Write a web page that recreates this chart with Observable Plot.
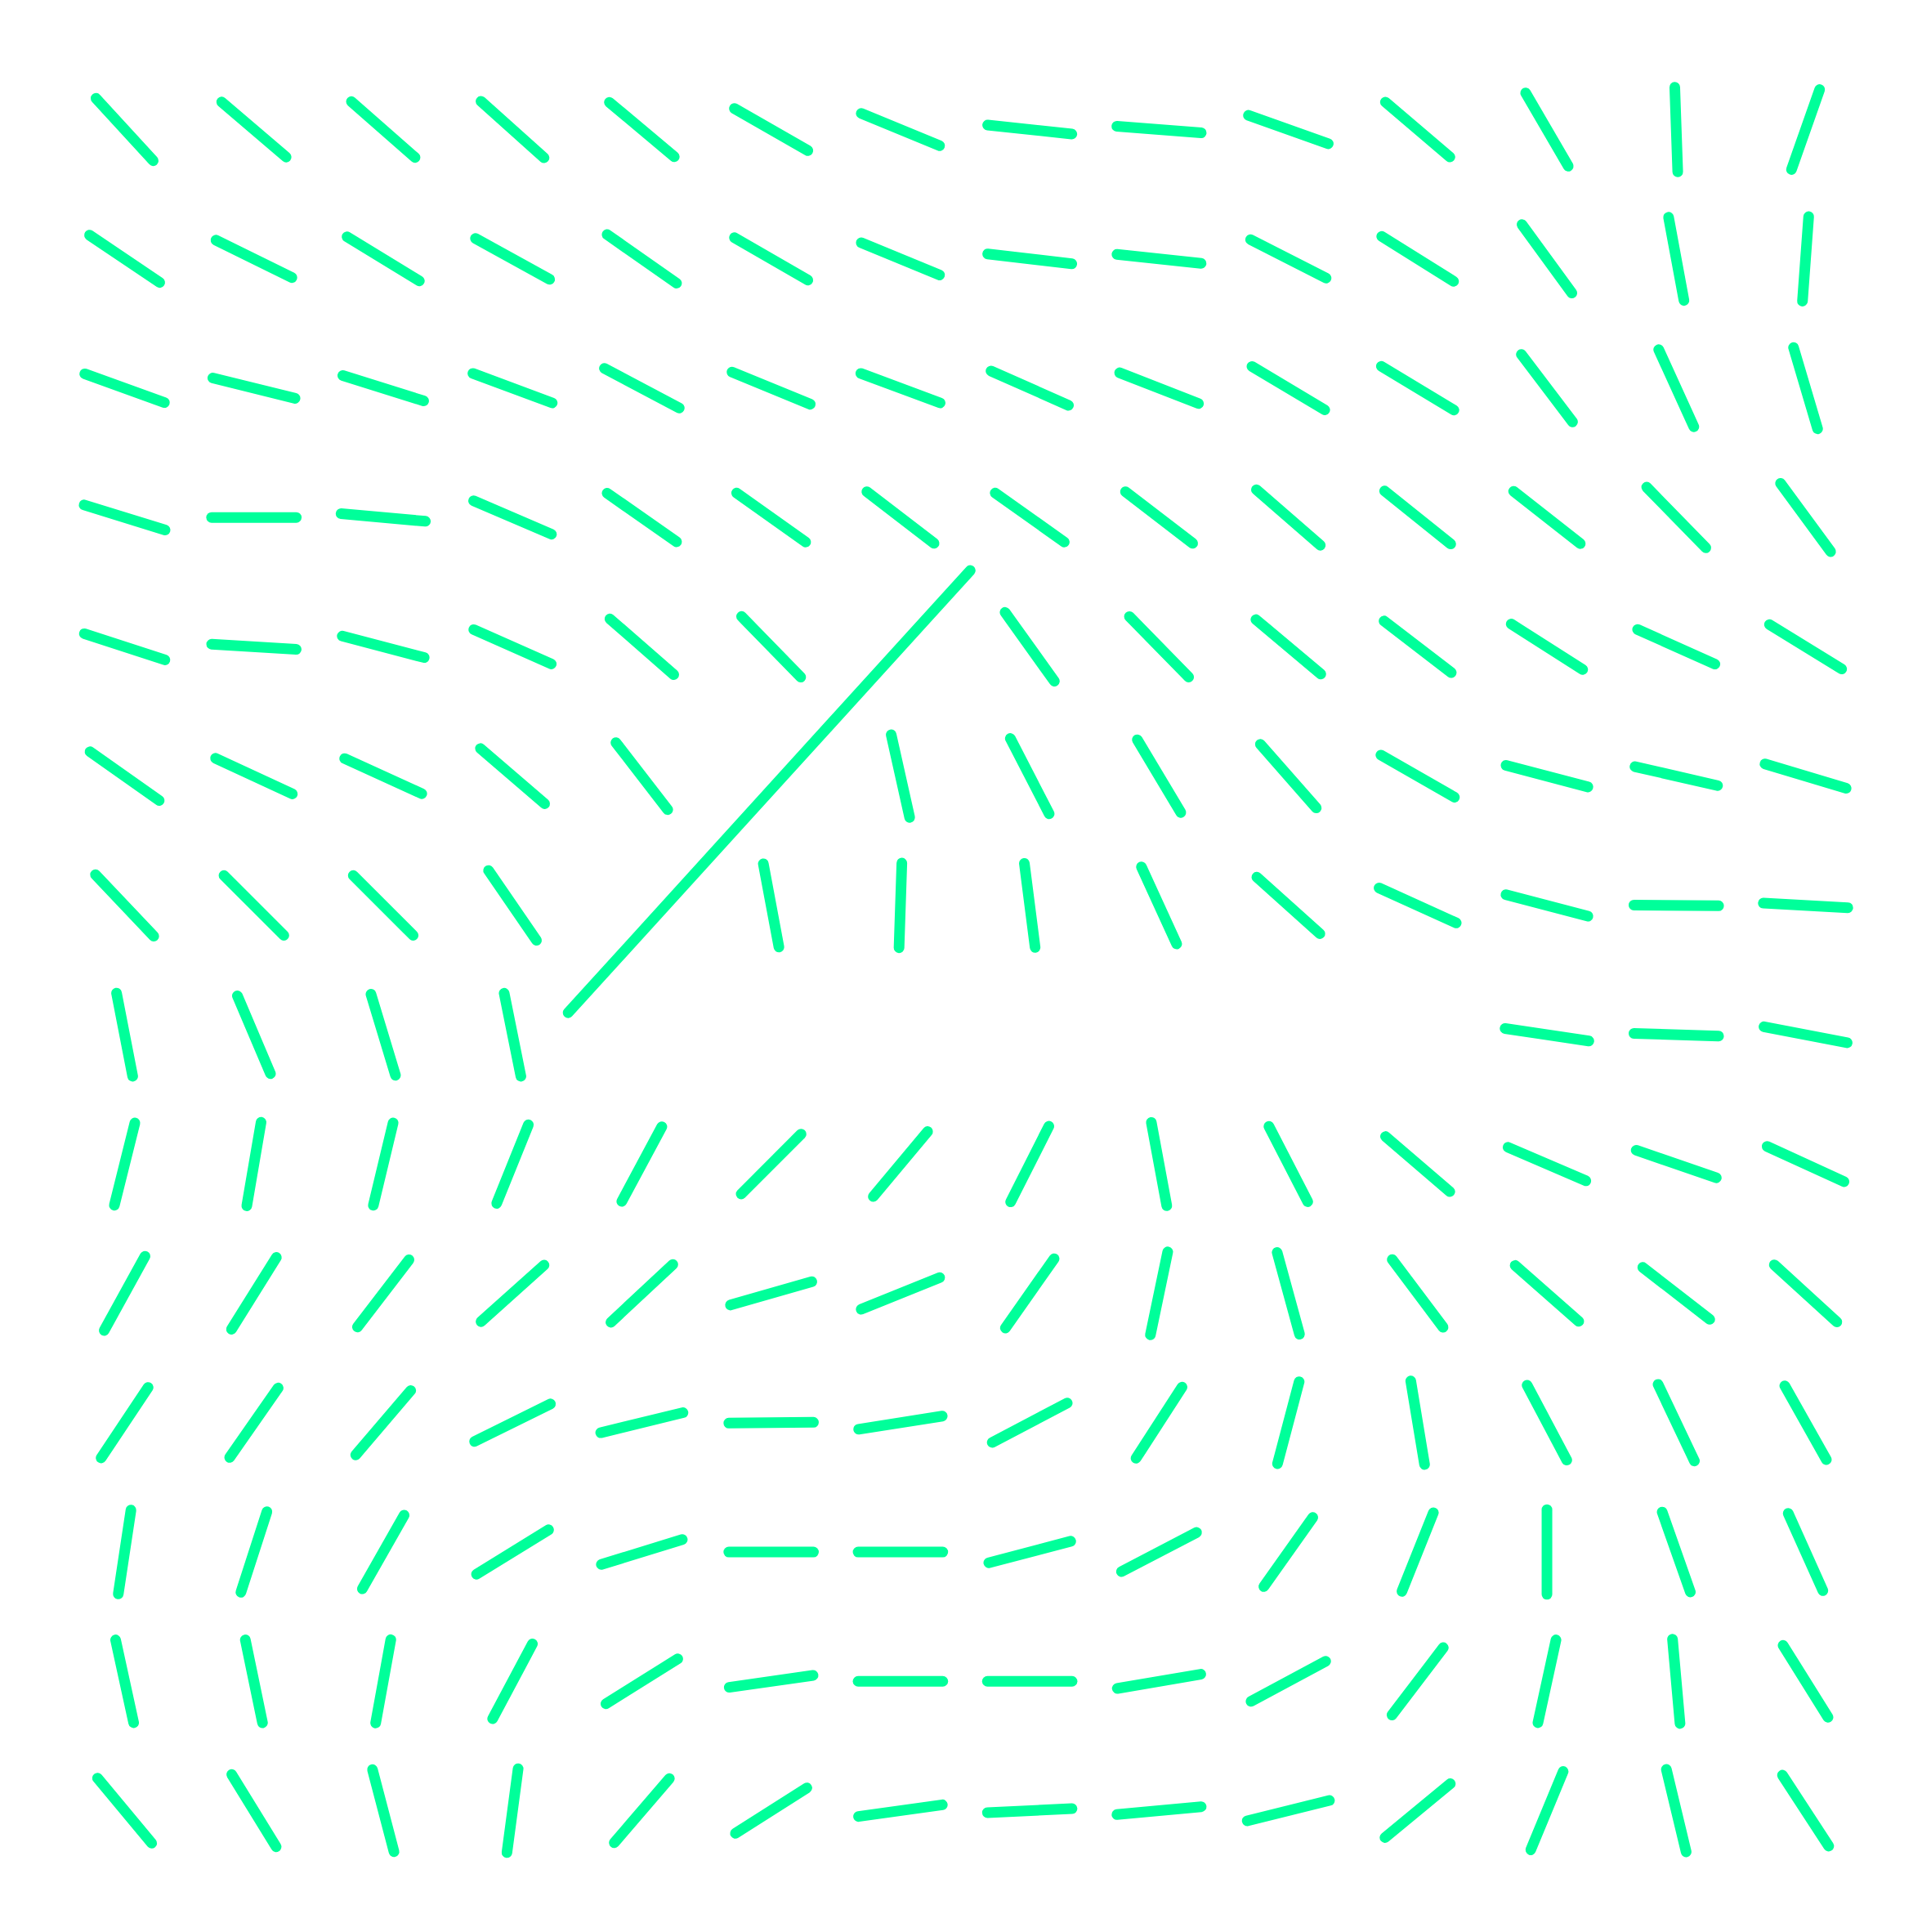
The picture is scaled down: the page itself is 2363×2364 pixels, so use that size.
<!DOCTYPE html>
<html>
<head>
<meta charset="utf-8">
<script src="https://cdn.jsdelivr.net/npm/d3@7"></script>
<script src="https://cdn.jsdelivr.net/npm/@observablehq/plot@0.6"></script>
<style>
  html, body { margin: 0; padding: 0; background: #ffffff; }
  #chart svg { display: block; }
</style>
</head>
<body>
<div id="chart"></div>
<script>
// Direction of each stroke (degrees, clockwise from east on screen); null = no stroke
const row0  = [47.5, 40.5, 41.3, 41.8, 40.0, 29.8, 22.3, 6.1, 4.5, 19.6, 40.4, 59.8, 88.0, 109.4];
const row1  = [34.0, 26.2, 31.4, 28.9, 35.0, 30.0, 22.3, 6.7, 6.1, 27.0, 32.0, 53.9, 79.5, 94.2];
const row2  = [19.8, 13.9, 17.4, 20.4, 27.9, 22.3, 20.4, 23.9, 21.3, 30.8, 31.1, 52.8, 65.5, 73.5];
const row3  = [17.2, 0.0, 5.1, 23.2, 35.0, 35.4, 37.5, 35.4, 37.5, 41.0, 38.7, 38.1, 45.7, 53.7];
const row4  = [18.0, 3.5, 14.7, 23.9, 41.1, 45.7, null, 54.4, 45.6, 40.0, 37.5, 32.5, 24.1, 31.6];
const row5  = [35.2, 24.9, 24.5, 40.7, 52.3, null, 77.4, 62.7, 59.1, 48.7, 29.8, 14.8, 12.9, 16.7];
const row6  = [46.5, 45.0, 45.0, 55.5, null, 79.4, 91.9, 82.7, 65.4, 41.9, 24.4, 14.7, 0.5, 3.1];
const row7  = [79.0, 67.0, 73.2, 78.6, null, null, null, null, null, null, null, 8.5, 1.8, 10.9];
const row8  = [104.0, 99.7, 103.5, 112.0, 118.2, 135.0, 129.9, 116.8, 79.5, 62.7, 40.6, 23.3, 19.0, 24.6];
const row9  = [118.8, 122.0, 127.5, 138.1, 137.0, 164.0, 158.0, 125.1, 101.8, 74.7, 53.1, 41.3, 37.8, 42.4];
const row10 = [123.7, 124.9, 130.5, 153.7, 166.3, 179.5, 171.1, 152.3, 122.9, 104.8, 80.6, 62.1, 64.6, 60.6];
const row11 = [98.6, 107.9, 119.6, 148.4, 162.9, 0.0, 0.0, 165.3, 152.5, 125.3, 111.8, 90.0, 70.6, 65.8];
const row12 = [77.7, 78.3, 100.3, 118.0, 148.0, 171.9, 0.0, 0.0, 170.3, 151.7, 127.3, 102.3, 84.9, 58.0];
const row13 = [50.2, 58.4, 75.3, 97.6, 130.6, 147.5, 172.1, 177.3, 174.7, 166.1, 140.5, 112.5, 76.5, 56.9];

// One stray long stroke (grid units: column, row)
const strayStart = [3.43, 6.83];
const strayEnd   = [6.54, 3.41];

const rows = [row0, row1, row2, row3, row4, row5, row6, row7, row8, row9, row10, row11, row12, row13];
const cols = d3.range(14);

const segLength = 0.655; // in grid units
const strokes = [];
rows.forEach((angles, r) => {
  angles.forEach((a, c) => {
    if (a == null) return;
    const t = a * Math.PI / 180;
    const h = segLength / 2;
    strokes.push({
      x1: cols[c] - h * Math.cos(t), y1: r - h * Math.sin(t),
      x2: cols[c] + h * Math.cos(t), y2: r + h * Math.sin(t)
    });
  });
});
const stray = [{x1: strayStart[0], y1: strayStart[1], x2: strayEnd[0], y2: strayEnd[1]}];

const color = "#00ff9a";
const chart = Plot.plot({
  width: 2363,
  height: 2364,
  marginLeft: 152,
  marginRight: 154,
  marginTop: 158,
  marginBottom: 149,
  style: {background: "#ffffff"},
  x: {domain: [0, 13], axis: null},
  y: {domain: [0, 13], reverse: true, axis: null},
  marks: [
    Plot.link(strokes, {x1: "x1", y1: "y1", x2: "x2", y2: "y2", stroke: color, strokeWidth: 13, strokeLinecap: "round"}),
    Plot.link(stray, {x1: "x1", y1: "y1", x2: "x2", y2: "y2", stroke: color, strokeWidth: 13, strokeLinecap: "round"})
  ]
});
document.getElementById("chart").appendChild(chart);
</script>
</body>
</html>
